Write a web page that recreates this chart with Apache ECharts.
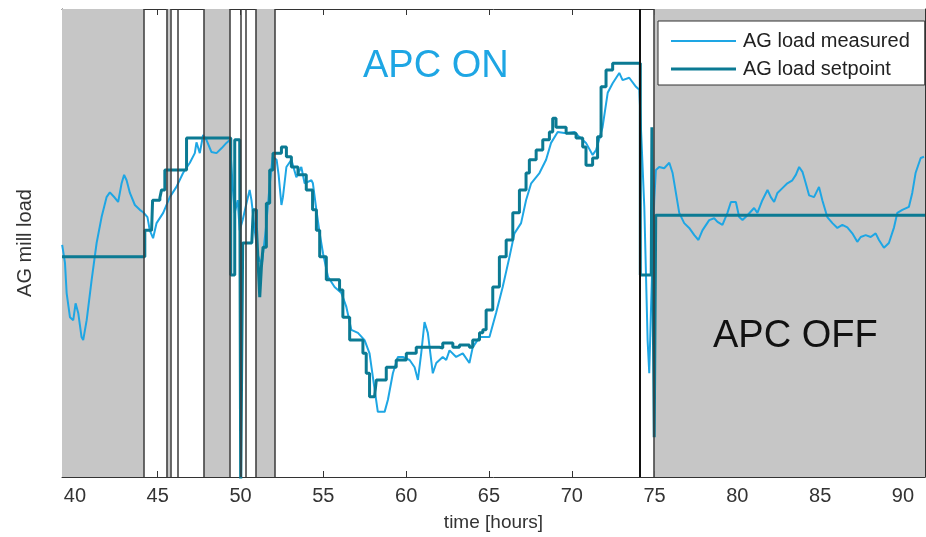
<!DOCTYPE html>
<html>
<head>
<meta charset="utf-8">
<script src="https://cdn.jsdelivr.net/npm/echarts@6/dist/echarts.min.js"></script>
<style>
  html, body { margin: 0; padding: 0; background: #fff; }
  #chart { width: 926px; height: 537px; }
</style>
</head>
<body>
<div id="chart"></div>
<script>
// Measured AG mill load (light blue)
var measuredHours = [39.23, 39.40, 39.50, 39.70, 39.90, 40.04, 40.20, 40.40, 40.50, 40.71, 41.01, 41.31, 41.61, 41.91, 42.11, 42.41, 42.61, 42.82, 42.97, 43.12,
  43.32, 43.62, 43.92, 44.12, 44.38, 44.52, 44.72, 44.93, 45.33, 45.73, 46.13, 46.53, 46.94, 47.24, 47.34, 47.54, 47.74, 47.94, 48.24, 48.55,
  48.85, 49.15, 49.35, 49.53, 49.65, 49.83, 49.95, 50.13, 50.36, 50.55, 50.66, 50.86, 51.04, 51.28, 51.52, 51.76, 51.94, 52.18, 52.30, 52.47,
  52.56, 52.77, 53.07, 53.37, 53.67, 53.87, 54.28, 54.37, 54.58, 54.78, 54.98, 55.28, 55.68, 56.09, 56.39, 56.69, 57.09, 57.49, 57.79, 57.99,
  58.29, 58.70, 58.90, 59.20, 59.50, 59.80, 60.21, 60.51, 60.71, 60.91, 61.11, 61.31, 61.61, 61.82, 62.21, 62.42, 62.62, 63.02, 63.42, 63.82,
  64.02, 64.43, 65.03, 65.43, 65.83, 66.24, 66.54, 66.94, 67.24, 67.55, 68.05, 68.45, 68.75, 69.15, 69.66, 70.16, 70.46, 70.86, 71.26, 71.47,
  71.86, 72.17, 72.47, 72.87, 73.07, 73.47, 73.88, 74.08, 74.38, 74.48, 74.58, 74.68, 74.80, 74.98, 75.08, 75.28, 75.58, 75.89, 76.09, 76.49,
  76.79, 77.09, 77.40, 77.65, 77.89, 78.30, 78.60, 78.80, 79.10, 79.40, 79.61, 79.91, 80.11, 80.31, 80.61, 81.01, 81.21, 81.51, 81.82, 82.02,
  82.22, 82.42, 82.72, 83.02, 83.32, 83.53, 83.73, 83.93, 84.13, 84.33, 84.63, 84.93, 85.13, 85.43, 85.74, 86.04, 86.34, 86.64, 86.94, 87.24,
  87.45, 87.75, 88.05, 88.35, 88.55, 88.85, 89.15, 89.46, 89.66, 89.96, 90.36, 90.56, 90.76, 91.07, 91.27];
var measuredLoad = [4.52, 4.22, 3.72, 3.32, 3.27, 3.55, 3.39, 2.99, 2.94, 3.27, 3.94, 4.55, 4.98, 5.31, 5.39, 5.30, 5.23, 5.54, 5.68, 5.59,
  5.38, 5.18, 5.10, 5.06, 4.98, 4.76, 4.63, 4.88, 5.05, 5.31, 5.48, 5.71, 5.88, 6.04, 6.22, 6.04, 6.34, 6.26, 6.06, 6.04,
  6.12, 6.21, 6.26, 5.48, 5.05, 5.26, 4.76, 4.93, 5.21, 5.43, 5.26, 4.76, 4.35, 4.18, 4.76, 5.51, 5.98, 5.93, 5.68, 5.18,
  5.31, 5.81, 5.93, 5.64, 5.81, 5.54, 5.59, 5.54, 5.10, 4.71, 4.38, 3.99, 3.82, 3.72, 3.49, 3.11, 3.06, 2.94, 2.72, 2.33,
  1.75, 1.75, 1.95, 2.39, 2.66, 2.66, 2.61, 2.49, 2.28, 2.72, 3.24, 3.06, 2.39, 2.56, 2.66, 2.61, 2.77, 2.66, 2.72, 2.56,
  2.82, 2.99, 2.99, 3.39, 3.82, 4.32, 4.71, 4.88, 5.26, 5.54, 5.71, 5.93, 6.21, 6.39, 6.37, 6.39, 6.31, 6.21, 6.01, 6.09,
  6.47, 7.04, 7.20, 7.37, 7.25, 7.29, 7.14, 7.09, 5.15, 4.05, 2.94, 2.39, 3.60, 5.26, 5.76, 5.81, 5.79, 5.88, 5.71, 5.05,
  4.88, 4.80, 4.68, 4.60, 4.76, 4.93, 4.96, 4.90, 4.85, 5.05, 5.23, 5.23, 4.98, 4.93, 5.01, 5.13, 5.05, 5.26, 5.43, 5.31,
  5.23, 5.38, 5.46, 5.54, 5.59, 5.68, 5.81, 5.73, 5.54, 5.34, 5.31, 5.48, 5.26, 4.98, 4.88, 4.80, 4.85, 4.81, 4.71, 4.57,
  4.65, 4.68, 4.65, 4.71, 4.60, 4.47, 4.55, 4.81, 5.05, 5.10, 5.15, 5.38, 5.71, 5.96, 5.98];

// AG load setpoint (dark teal), step changes
var setpointHours = [39.22, 44.22, 44.22, 44.63, 44.69, 45.13, 45.23, 45.43, 45.43, 46.74, 46.74, 49.41, 49.41, 49.65, 49.65, 49.95, 50.01, 50.13, 50.13, 50.68,
  50.77, 50.96, 51.06, 51.16, 51.26, 51.36, 51.56, 51.76, 51.96, 52.26, 52.47, 52.77, 53.07, 53.47, 53.97, 54.35, 54.58, 54.78, 55.18, 55.98,
  56.18, 56.59, 57.19, 57.39, 57.59, 57.79, 58.09, 58.20, 58.80, 59.40, 60.01, 60.61, 62.01, 62.21, 62.82, 63.22, 63.82, 64.02, 64.43, 64.63,
  64.83, 65.23, 65.63, 66.04, 66.44, 66.84, 67.24, 67.44, 67.85, 68.25, 68.65, 68.85, 69.05, 69.66, 70.26, 70.66, 70.86, 71.26, 71.56, 71.77,
  72.07, 72.47, 74.14, 74.14, 74.80, 74.84, 74.95, 74.98, 75.07, 75.07, 91.33];
var setpointLoad = [4.32, 4.32, 4.76, 4.76, 5.26, 5.30, 5.43, 5.46, 5.76, 5.76, 6.29, 6.29, 4.02, 4.02, 6.26, 6.26, 0.50, 0.50, 4.55, 4.55,
  5.10, 4.81, 4.22, 3.65, 4.15, 4.48, 5.21, 5.76, 6.04, 6.04, 6.14, 5.98, 5.81, 5.68, 5.43, 5.10, 4.76, 4.32, 3.94, 3.77,
  3.32, 2.94, 2.94, 2.72, 2.39, 2.00, 1.98, 2.28, 2.49, 2.61, 2.72, 2.82, 2.81, 2.89, 2.82, 2.86, 2.82, 2.94, 3.06, 3.11,
  3.44, 3.82, 4.32, 4.60, 5.05, 5.43, 5.71, 5.93, 6.09, 6.26, 6.39, 6.62, 6.47, 6.37, 6.29, 6.14, 5.84, 5.96, 6.31, 7.14,
  7.42, 7.53, 7.53, 4.02, 4.02, 6.47, 6.47, 1.33, 1.33, 5.01, 5.01];

// APC off periods (grey) and switching instants
var offBands = [[39.22, 44.16], [45.53, 45.77], [47.78, 49.35], [50.92, 52.08], [74.98, 91.33]];
var switchLines = [44.16, 45.53, 45.77, 46.23, 47.78, 49.35, 49.99, 50.30, 50.92, 52.08, 74.98];
var switchOnLine = 74.08;

var xTicks = [40, 45, 50, 55, 60, 65, 70, 75, 80, 85, 90];
var yTicks = [1, 2, 3, 4, 5, 6, 7, 8];

var xMin = 39.22, xMax = 91.33;
var yMin = 0.67, yMax = 8.43;

var FONT = 'Liberation Sans, Arial, sans-serif';
var LIGHT = '#1EA6E4';
var DARK = '#0B7A93';

function zip(xs, ys) {
  var out = [];
  for (var i = 0; i < xs.length; i++) out.push([xs[i], ys[i]]);
  return out;
}

var myChart = echarts.init(document.getElementById('chart'));

var frameAxis = {
  type: 'value',
  min: xMin,
  max: xMax,
  axisLine: { show: true, onZero: false, lineStyle: { color: '#333', width: 1 } },
  axisTick: { show: true, inside: true, length: 6, customValues: xTicks, lineStyle: { color: '#333' } },
  splitLine: { show: false }
};

var option = {
  animation: false,
  backgroundColor: '#fff',
  grid: { left: 62, top: 9, right: 1, bottom: 60 },
  legend: {
    orient: 'vertical',
    left: 658,
    top: 21,
    padding: [10, 15, 6, 13],
    itemWidth: 65,
    itemHeight: 12,
    itemGap: 8,
    backgroundColor: '#fff',
    borderColor: '#333',
    borderWidth: 1,
    borderRadius: 0,
    textStyle: { fontFamily: FONT, fontSize: 20, color: '#222', padding: [0, 0, 0, 2] },
    data: [
      { name: 'AG load measured', icon: 'path://M0 0H65V2H0Z' },
      { name: 'AG load setpoint', icon: 'path://M0 0H65V3H0Z' }
    ]
  },
  xAxis: [
    Object.assign({}, frameAxis, {
      position: 'bottom',
      name: 'time [hours]',
      nameLocation: 'middle',
      nameGap: 36,
      nameTextStyle: { fontFamily: FONT, fontSize: 19, color: '#333' },
      axisLabel: { show: true, customValues: xTicks, margin: 9, fontFamily: FONT, fontSize: 20, color: '#333' }
    }),
    Object.assign({}, frameAxis, { position: 'top', axisLabel: { show: false } })
  ],
  yAxis: [
    {
      type: 'value',
      min: yMin,
      max: yMax,
      position: 'left',
      name: 'AG mill load',
      nameLocation: 'middle',
      nameGap: 27,
      nameTextStyle: { fontFamily: FONT, fontSize: 20, color: '#333' },
      axisLine: { show: true, lineStyle: { color: '#333', width: 1 } },
      axisTick: { show: true, inside: true, length: 6, customValues: yTicks, lineStyle: { color: '#333' } },
      axisLabel: { show: false },
      splitLine: { show: false }
    },
    {
      type: 'value',
      min: yMin,
      max: yMax,
      position: 'right',
      axisLine: { show: true, lineStyle: { color: '#333', width: 1 } },
      axisTick: { show: true, inside: true, length: 6, customValues: yTicks, lineStyle: { color: '#333' } },
      axisLabel: { show: false },
      splitLine: { show: false }
    }
  ],
  graphic: [
    { type: 'text', left: 363, top: 48, z: 100,
      style: { text: 'APC ON', fontFamily: FONT, fontSize: 38, fill: LIGHT } },
    { type: 'text', left: 713, top: 318, z: 100,
      style: { text: 'APC OFF', fontFamily: FONT, fontSize: 38, fill: '#111' } }
  ],
  series: [
    {
      name: 'bands',
      type: 'line',
      data: [],
      z: 1,
      silent: true,
      markArea: {
        silent: true,
        itemStyle: { color: '#C6C6C6' },
        data: offBands.map(function (b) { return [{ xAxis: b[0] }, { xAxis: b[1] }]; })
      },
      markLine: {
        silent: true,
        symbol: 'none',
        label: { show: false },
        data: switchLines.map(function (x) {
          return { xAxis: x, lineStyle: { color: '#3a3a3a', width: 1.5, type: 'solid' } };
        }).concat([{ xAxis: switchOnLine, lineStyle: { color: '#111', width: 2, type: 'solid' } }])
      }
    },
    {
      name: 'AG load measured',
      type: 'line',
      symbol: 'none',
      z: 3,
      lineStyle: { color: LIGHT, width: 2 },
      itemStyle: { color: LIGHT },
      data: zip(measuredHours, measuredLoad)
    },
    {
      name: 'AG load setpoint',
      type: 'line',
      symbol: 'none',
      z: 4,
      step: 'end',
      lineStyle: { color: DARK, width: 3 },
      itemStyle: { color: DARK },
      data: zip(setpointHours, setpointLoad)
    }
  ]
};

myChart.setOption(option);

window.onresize = function () {
  myChart.resize();
};
</script>
</body>
</html>
